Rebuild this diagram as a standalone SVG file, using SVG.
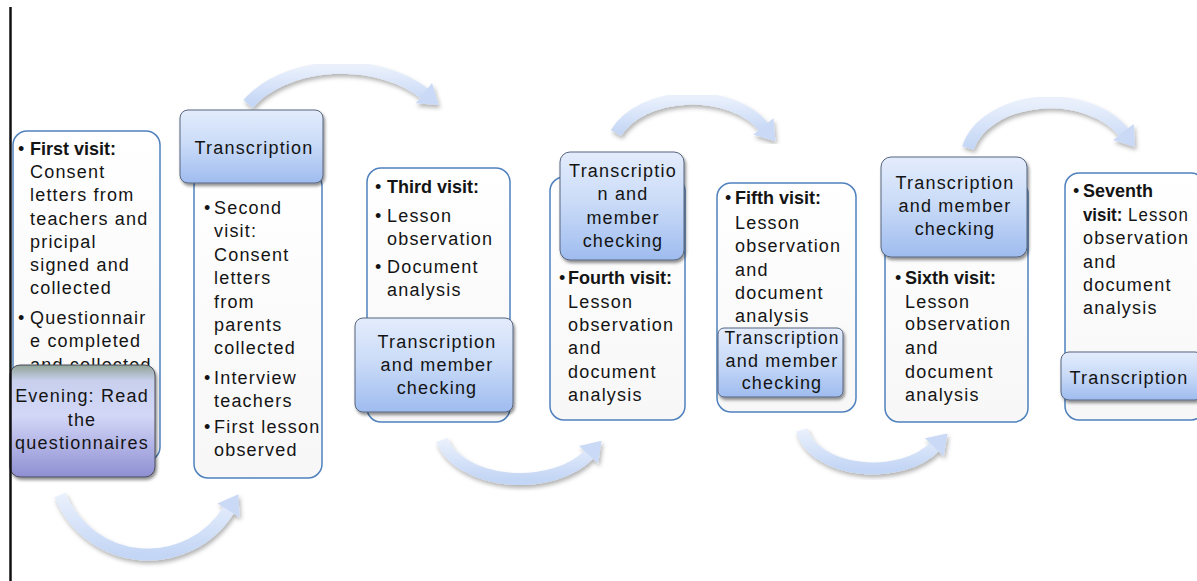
<svg xmlns="http://www.w3.org/2000/svg" width="1197" height="581" viewBox="0 0 1197 581">
<defs>
<linearGradient id="gw" x1="0" y1="0" x2="0" y2="1"><stop offset="0" stop-color="#ffffff"/><stop offset="1" stop-color="#f7f7f7"/></linearGradient>
<linearGradient id="gb" x1="0" y1="0" x2="0" y2="1"><stop offset="0" stop-color="#e3ecfc"/><stop offset="0.45" stop-color="#cbdcf8"/><stop offset="1" stop-color="#9fbcef"/></linearGradient>
<linearGradient id="gp" x1="0" y1="0" x2="0" y2="1"><stop offset="0" stop-color="#8fa396"/><stop offset="0.14" stop-color="#c8d0ee"/><stop offset="0.45" stop-color="#d3d7f7"/><stop offset="1" stop-color="#8e8fd2"/></linearGradient>
<linearGradient id="ga" x1="0" y1="0" x2="0" y2="1"><stop offset="0" stop-color="#e9f0fc"/><stop offset="1" stop-color="#c4d6f5"/></linearGradient>
<filter id="sh" x="-10%" y="-10%" width="130%" height="140%"><feDropShadow dx="1.5" dy="2.5" stdDeviation="1.5" flood-color="#000" flood-opacity="0.45"/></filter>
<filter id="ash" x="-10%" y="-10%" width="130%" height="140%"><feDropShadow dx="1.5" dy="3" stdDeviation="2" flood-color="#000" flood-opacity="0.3"/></filter>
<marker id="ah" markerUnits="userSpaceOnUse" markerWidth="30" markerHeight="30" refX="1" refY="13" orient="auto" overflow="visible"><path d="M0,0 L19,13 L0,26 z" fill="#cad9f6"/></marker>
</defs>
<style>
.w{fill:url(#gw);stroke:#4f81bd;stroke-width:1.5}
.b{fill:url(#gb);stroke:#56657e;stroke-width:1;filter:url(#sh)}
.p{fill:url(#gp);stroke:#4a4a5a;stroke-width:1;filter:url(#sh)}
.t{font-family:"Liberation Sans",Arial,sans-serif;font-size:18px;fill:#141414;letter-spacing:1.2px}
.bd{font-weight:bold;letter-spacing:0}
.c{text-anchor:middle}
.arr{fill:none;stroke:url(#ga);stroke-width:12;marker-end:url(#ah);filter:url(#ash)}
</style>
<rect width="1197" height="581" fill="#ffffff"/>

<g id="connectors">
<path class="arr" d="M 60 495 A 95 95 0 0 0 229 509.5"/>
<path class="arr" d="M 248 104 A 108 72 0 0 1 424.7 93.7"/>
<path class="arr" d="M 442 440 A 80 50 0 0 0 589.3 454"/>
<path class="arr" d="M 616 133 A 82 55 0 0 1 764 127.2"/>
<path class="arr" d="M 802 430 A 72 45 0 0 0 935 446.5"/>
<path class="arr" d="M 968 148 A 84 58 0 0 1 1124 132.8"/>
</g>

<g id="first-visit">
<rect class="w" x="13" y="131" width="147" height="330" rx="14"/>
<text class="t" x="18" y="155">•</text>
<text class="t bd" x="30" y="155">First visit:</text>
<text class="t" x="30" y="178">Consent</text>
<text class="t" x="30" y="201">letters from</text>
<text class="t" x="30" y="225">teachers and</text>
<text class="t" x="30" y="248">pricipal</text>
<text class="t" x="30" y="271">signed and</text>
<text class="t" x="30" y="294">collected</text>
<text class="t" x="18" y="324">•</text>
<text class="t" x="30" y="324">Questionnair</text>
<text class="t" x="30" y="347">e completed</text>
<text class="t" x="30" y="371">and collected</text>
</g>

<g id="evening">
<rect class="p" x="10" y="365" width="145" height="112" rx="10"/>
<text class="t c" x="82" y="402">Evening: Read</text>
<text class="t c" x="82" y="426">the</text>
<text class="t c" x="82" y="449">questionnaires</text>
</g>

<g id="second-visit">
<rect class="w" x="194" y="172" width="128" height="306" rx="14"/>
<text class="t" x="204" y="214">•</text>
<text class="t" x="214" y="214">Second</text>
<text class="t" x="214" y="237">visit:</text>
<text class="t" x="214" y="261">Consent</text>
<text class="t" x="214" y="284">letters</text>
<text class="t" x="214" y="308">from</text>
<text class="t" x="214" y="331">parents</text>
<text class="t" x="214" y="354">collected</text>
<text class="t" x="204" y="384">•</text>
<text class="t" x="214" y="384">Interview</text>
<text class="t" x="214" y="407">teachers</text>
<text class="t" x="204" y="433">•</text>
<text class="t" x="214" y="433">First lesson</text>
<text class="t" x="214" y="456">observed</text>
</g>

<g id="transcription-1">
<rect class="b" x="180" y="110" width="143" height="73" rx="8"/>
<text class="t c" x="254" y="154">Transcription</text>
</g>

<g id="third-visit">
<rect class="w" x="367" y="168" width="143" height="254" rx="14"/>
<text class="t" x="375" y="193">•</text>
<text class="t bd" x="387" y="193">Third visit:</text>
<text class="t" x="375" y="222">•</text>
<text class="t" x="387" y="222">Lesson</text>
<text class="t" x="387" y="245">observation</text>
<text class="t" x="375" y="273">•</text>
<text class="t" x="387" y="273">Document</text>
<text class="t" x="387" y="296">analysis</text>
</g>

<g id="transcription-2">
<rect class="b" x="355" y="318" width="158" height="94" rx="8"/>
<text class="t c" x="437" y="348">Transcription</text>
<text class="t c" x="437" y="371">and member</text>
<text class="t c" x="437" y="394">checking</text>
</g>

<g id="fourth-visit">
<rect class="w" x="550" y="177" width="135" height="243" rx="14"/>
<text class="t" x="559" y="284">•</text>
<text class="t bd" x="568" y="284">Fourth visit:</text>
<text class="t" x="568" y="308">Lesson</text>
<text class="t" x="568" y="331">observation</text>
<text class="t" x="568" y="354">and</text>
<text class="t" x="568" y="378">document</text>
<text class="t" x="568" y="401">analysis</text>
</g>

<g id="transcription-3">
<rect class="b" x="560" y="152" width="124" height="108" rx="10"/>
<text class="t c" x="623" y="177">Transcriptio</text>
<text class="t c" x="623" y="200">n and</text>
<text class="t c" x="623" y="224">member</text>
<text class="t c" x="623" y="247">checking</text>
</g>

<g id="fifth-visit">
<rect class="w" x="717" y="183" width="139" height="229" rx="14"/>
<text class="t" x="725" y="204">•</text>
<text class="t bd" x="735" y="204">Fifth visit:</text>
<text class="t" x="735" y="229">Lesson</text>
<text class="t" x="735" y="252">observation</text>
<text class="t" x="735" y="276">and</text>
<text class="t" x="735" y="299">document</text>
<text class="t" x="735" y="322">analysis</text>
</g>

<g id="transcription-4">
<rect class="b" x="718" y="328" width="125" height="69" rx="6"/>
<text class="t c" x="782" y="344" textLength="115" lengthAdjust="spacingAndGlyphs">Transcription</text>
<text class="t c" x="782" y="367">and member</text>
<text class="t c" x="782" y="389">checking</text>
</g>

<g id="sixth-visit">
<rect class="w" x="885" y="180" width="143" height="242" rx="14"/>
<text class="t" x="895" y="284">•</text>
<text class="t bd" x="905" y="284">Sixth visit:</text>
<text class="t" x="905" y="308">Lesson</text>
<text class="t" x="905" y="330">observation</text>
<text class="t" x="905" y="354">and</text>
<text class="t" x="905" y="378">document</text>
<text class="t" x="905" y="401">analysis</text>
</g>

<g id="transcription-5">
<rect class="b" x="881" y="157" width="146" height="100" rx="10"/>
<text class="t c" x="955" y="189">Transcription</text>
<text class="t c" x="955" y="212">and member</text>
<text class="t c" x="955" y="235">checking</text>
</g>

<g id="seventh-visit">
<rect class="w" x="1065" y="173" width="140" height="247" rx="14"/>
<text class="t" x="1073" y="197">•</text>
<text class="t bd" x="1083" y="197">Seventh</text>
<text class="t" x="1083" y="221" textLength="106" lengthAdjust="spacingAndGlyphs"><tspan font-weight="bold" letter-spacing="0">visit:</tspan> Lesson</text>
<text class="t" x="1083" y="244">observation</text>
<text class="t" x="1083" y="268">and</text>
<text class="t" x="1083" y="291">document</text>
<text class="t" x="1083" y="314">analysis</text>
</g>

<g id="transcription-6">
<rect class="b" x="1061" y="352" width="142" height="48" rx="8"/>
<text class="t c" x="1129" y="384">Transcription</text>
</g>

<line x1="10.5" y1="7" x2="10.5" y2="581" stroke="#111" stroke-width="2.5"/>
</svg>
